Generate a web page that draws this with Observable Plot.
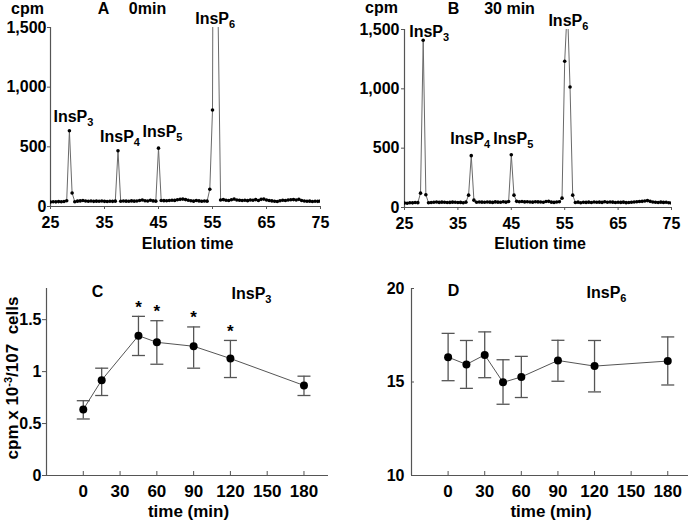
<!DOCTYPE html>
<html><head><meta charset="utf-8">
<script src="https://cdn.jsdelivr.net/npm/d3@7"></script>
<script src="https://cdn.jsdelivr.net/npm/@observablehq/plot@0.6"></script>
<style>
html,body{margin:0;padding:0;background:#fff;}
#fig{position:relative;width:693px;height:525px;overflow:hidden;background:#fff;}
#fig svg{position:absolute;}
#fig svg text{font-weight:bold;}
</style></head><body><div id="fig"></div>
<script>
// ---------- Panels A & B: HPLC elution profiles ----------
const elutionTimes = d3.range(25, 75.01, 0.5); // fraction times (min)
const cpmA = [
  38,40,39,41,40,42,48,635,113,40,
  45,47,50,46,44,46,43,45,44,46,
  43,42,44,43,45,467,44,46,45,44,
  47,45,46,50,55,48,46,52,47,45,
  489,50,49,48,50,52,51,56,60,62,
  58,52,48,45,50,47,44,46,45,144,
  809,7800,1700,55,58,52,50,56,62,54,
  52,50,53,49,55,52,58,50,60,62,
  55,50,47,44,42,48,52,50,54,56,
  58,55,60,50,46,44,45,42,44,43,
  45
];
const cpmB = [
  38,36,40,39,42,41,121,1410,107,40,
  42,44,46,43,45,44,42,43,45,44,
  42,43,40,45,104,437,62,44,46,45,
  44,46,45,43,47,45,44,48,45,50,
  445,104,52,48,50,47,49,46,45,48,
  47,46,44,50,52,45,43,46,48,79,
  1232,1700,1015,104,42,45,40,44,43,45,
  42,46,44,45,43,48,44,46,45,42,
  44,43,45,41,42,44,46,48,50,52,
  55,58,52,46,44,42,45,43,44,40,
  38
];
const peakNames = ["InsP3", "InsP4", "InsP5", "InsP6"];
const peakTimes = [28.5, 37.5, 45, 55.5];
const elutionTicks = [25, 35, 45, 55, 65, 75];
const cpmTicks = [0, 500, 1000, 1500];

// ---------- Panel C: InsP3 time course ----------
const timeC = [0, 15, 45, 60, 90, 120, 180];
const insp3Mean = [0.636, 0.918, 1.346, 1.282, 1.244, 1.126, 0.867];
const insp3Hi   = [0.72, 1.033, 1.532, 1.49, 1.43, 1.30, 0.956];
const insp3Lo   = [0.544, 0.77, 1.155, 1.071, 1.033, 0.943, 0.77];
const significantTimes = [45, 60, 90, 120];
const yTicksC = [0, 0.5, 1, 1.5];

// ---------- Panel D: InsP6 time course ----------
const timeD = [0, 15, 30, 45, 60, 90, 120, 180];
const insp6Mean = [16.33, 15.94, 16.45, 14.98, 15.27, 16.15, 15.85, 16.12];
const insp6Hi   = [17.6, 17.22, 17.68, 16.19, 16.37, 17.23, 17.22, 17.41];
const insp6Lo   = [15.07, 14.66, 15.23, 13.81, 14.17, 15.04, 14.47, 14.84];
const yTicksD = [10, 15, 20];
const timeTicks = [0, 30, 60, 90, 120, 150, 180];

const FONT = "'Liberation Sans', Arial, Helvetica, sans-serif";
const AX = "#555";
const NS = "http://www.w3.org/2000/svg";
const fig = document.getElementById("fig");

function place(svg, left, top) {
  svg.style.position = "absolute";
  svg.style.left = left + "px";
  svg.style.top = top + "px";
  fig.appendChild(svg);
  richText(svg);
}

function tspan(txt, attrs) {
  const ts = document.createElementNS(NS, "tspan");
  for (const k in attrs) ts.setAttribute(k, attrs[k]);
  ts.textContent = txt;
  return ts;
}
function richText(svg) {
  svg.querySelectorAll("text").forEach(t => {
    const s = t.textContent;
    let m = /^InsP(\d)$/.exec(s);
    if (m) {
      t.textContent = "InsP";
      t.appendChild(tspan(m[1], {dy: "4", "font-size": "11"}));
      return;
    }
    m = /^(.*)\^(-3)(.*)$/.exec(s);
    if (m) {
      t.textContent = m[1];
      t.appendChild(tspan(m[2], {dy: "-6", "font-size": "11"}));
      t.appendChild(tspan(m[3], {dy: "6"}));
    }
  });
}

const baseStyle = {fontFamily: FONT, fontWeight: "bold", fontSize: "16px", color: "#000", background: "transparent", overflow: "visible"};

function chromatogram({cpm, width, height, margins, header, offsets, yPad, xLabelDx, xLabelDy}) {
  const [mt, mr, mb, ml] = margins;
  const rows = elutionTimes.map((t, i) => ({t, cpm: cpm[i]}));
  const ymax = cpmTicks[cpmTicks.length - 1];
  const labelMarks = peakNames.map((name, i) => {
    const r = rows.find(d => d.t === peakTimes[i]);
    const d = {name, t: r.t, cpm: r.cpm};
    const [dx, dy] = offsets[i];
    return d.cpm <= ymax
      ? Plot.text([d], {x: "t", y: "cpm", text: "name", dx, dy, lineAnchor: "middle", fontSize: 16, fontWeight: "bold", fill: "#000"})
      : Plot.text([d], {x: "t", frameAnchor: "top", text: "name", dx, dy, lineAnchor: "middle", fontSize: 16, fontWeight: "bold", fill: "#000"});
  });
  const headerMarks = header.map(([txt, dx, dy]) =>
    Plot.text([txt], {text: d => d, frameAnchor: "top-left", dx, dy, textAnchor: "middle", lineAnchor: "middle", fontSize: 16, fontWeight: "bold", fill: "#000"}));
  return Plot.plot({
    width, height,
    marginTop: mt, marginRight: mr, marginBottom: mb, marginLeft: ml,
    style: baseStyle,
    x: {domain: [elutionTicks[0], elutionTicks[elutionTicks.length - 1]], label: null},
    y: {domain: [cpmTicks[0], ymax], label: null},
    marks: [
      Plot.ruleX([elutionTicks[0]], {stroke: AX, strokeWidth: 1.2}),
      Plot.ruleY([cpmTicks[0]], {stroke: AX, strokeWidth: 1.2}),
      Plot.axisY(cpmTicks, {tickFormat: d3.format(","), tickSize: 3, tickPadding: yPad, fontSize: 16, fontWeight: "bold", stroke: AX, fill: "#000", label: null}),
      Plot.axisX(elutionTicks, {tickSize: 3, tickPadding: 7, fontSize: 16, fontWeight: "bold", stroke: AX, fill: "#000", label: null}),
      Plot.line(rows, {x: "t", y: "cpm", stroke: "#6a6a6a", strokeWidth: 1, clip: true}),
      Plot.dot(rows, {x: "t", y: "cpm", r: 1.8, fill: "#000", stroke: "none", clip: true}),
      ...labelMarks,
      ...headerMarks,
      Plot.text(["Elution time"], {text: d => d, frameAnchor: "bottom", dx: xLabelDx, dy: xLabelDy, lineAnchor: "middle", fontSize: 16, fontWeight: "bold", fill: "#000"})
    ]
  });
}

const svgA = chromatogram({
  cpm: cpmA, width: 340, height: 260, margins: [27, 20, 54, 50],
  header: [["cpm", -23, -19], ["A", 53, -19], ["0min", 97, -19]],
  offsets: [[4, -14], [2, -14], [4, -16], [0, -9]],
  yPad: 1, xLabelDx: 2, xLabelDy: 37
});
place(svgA, 0, 0);

const svgB = chromatogram({
  cpm: cpmB, width: 348, height: 260, margins: [29, 22, 53, 59],
  header: [["cpm", -23, -22], ["B", 49, -21], ["30 min", 105, -21]],
  offsets: [[6, -8], [-1, -17], [2, -16], [1, -9]],
  yPad: 2, xLabelDx: 2, xLabelDy: 36
});
place(svgB, 345, 0);

// custom horizontal cap symbol for error bars
const capSymbol = {draw(ctx, size) { const w = Math.sqrt(size / Math.PI); ctx.moveTo(-w, 0); ctx.lineTo(w, 0); }};

function timeCourse({time, mean, hi, lo, yTicks, yDomain, xDomain, width, height, margins, inwardY, yPad, letter, title, stars, ylabel}) {
  const [mt, mr, mb, ml] = margins;
  const rows = time.map((t, i) => ({t, mean: mean[i], hi: hi[i], lo: lo[i]}));
  const frameW = width - ml - mr, frameH = height - mt - mb;
  const marks = [
    Plot.ruleX([xDomain[0]], {stroke: AX, strokeWidth: 1.2}),
    Plot.ruleY([yDomain[0]], {stroke: AX, strokeWidth: 1.2}),
    Plot.axisY(yTicks, {tickFormat: d => String(d), tickSize: inwardY ? 0 : 4, tickPadding: yPad, fontSize: 16, fontWeight: "bold", stroke: AX, fill: "#000", label: null}),
    Plot.axisX(timeTicks, {tickSize: 0, tickPadding: 9, fontSize: 17, fontWeight: "bold", fill: "#000", label: null}),
    Plot.tickX(timeTicks, {x: d => d, insetTop: frameH - 4, stroke: AX, strokeWidth: 1}),
    Plot.ruleX(rows, {x: "t", y1: "lo", y2: "hi", stroke: AX, strokeWidth: 1.3}),
    Plot.dot(rows, {x: "t", y: "hi", symbol: capSymbol, r: 6.5, fill: "none", stroke: AX, strokeWidth: 1.3}),
    Plot.dot(rows, {x: "t", y: "lo", symbol: capSymbol, r: 6.5, fill: "none", stroke: AX, strokeWidth: 1.3}),
    Plot.line(rows, {x: "t", y: "mean", stroke: "#555", strokeWidth: 1}),
    Plot.dot(rows, {x: "t", y: "mean", r: 4, fill: "#000", stroke: "none"}),
    Plot.text([letter[0]], {text: d => d, frameAnchor: "top-left", dx: letter[1], dy: letter[2], textAnchor: "middle", lineAnchor: "middle", fontSize: 16, fontWeight: "bold", fill: "#000"}),
    Plot.text([title[0]], {text: d => d, frameAnchor: "top-left", dx: title[1], dy: title[2], textAnchor: "middle", lineAnchor: "middle", fontSize: 16, fontWeight: "bold", fill: "#000"}),
    Plot.text(["time (min)"], {text: d => d, frameAnchor: "bottom", dx: 1, dy: 36, lineAnchor: "middle", fontSize: 17, fontWeight: "bold", fill: "#000"})
  ];
  if (inwardY) marks.push(Plot.tickY(yTicks, {y: d => d, insetRight: frameW - 3, stroke: AX, strokeWidth: 1}));
  if (stars) marks.push(Plot.text(rows.filter(d => stars.includes(d.t)), {x: "t", y: "hi", text: () => "*", dy: -9, lineAnchor: "middle", fontSize: 17, fontWeight: "bold", fill: "#000"}));
  if (ylabel) marks.push(Plot.text([ylabel], {text: d => d, frameAnchor: "left", rotate: -90, dx: -34, dy: -4, lineAnchor: "middle", textAnchor: "middle", fontSize: 17, fontWeight: "bold", fill: "#000"}));
  return Plot.plot({
    width, height,
    marginTop: mt, marginRight: mr, marginBottom: mb, marginLeft: ml,
    style: baseStyle,
    x: {domain: xDomain, label: null},
    y: {domain: yDomain, label: null},
    marks
  });
}

const svgC = timeCourse({
  time: timeC, mean: insp3Mean, hi: insp3Hi, lo: insp3Lo,
  yTicks: yTicksC, yDomain: [0, 1.8], xDomain: [-30, 200],
  width: 340, height: 255, margins: [18, 12, 50, 46], inwardY: false, yPad: 1,
  letter: ["C", 51, 3], title: ["InsP3", 205, 5], stars: significantTimes,
  ylabel: "cpm x 10^-3/107\u00a0 cells"
});
place(svgC, 0, 270);

const svgD = timeCourse({
  time: timeD, mean: insp6Mean, hi: insp6Hi, lo: insp6Lo,
  yTicks: yTicksD, yDomain: [10, 20], xDomain: [-30, 197],
  width: 348, height: 255, margins: [18, 5, 50, 66], inwardY: true, yPad: 7,
  letter: ["D", 42, 2], title: ["InsP6", 195, 4], stars: null, ylabel: null
});
place(svgD, 345, 270);
</script></body></html>
